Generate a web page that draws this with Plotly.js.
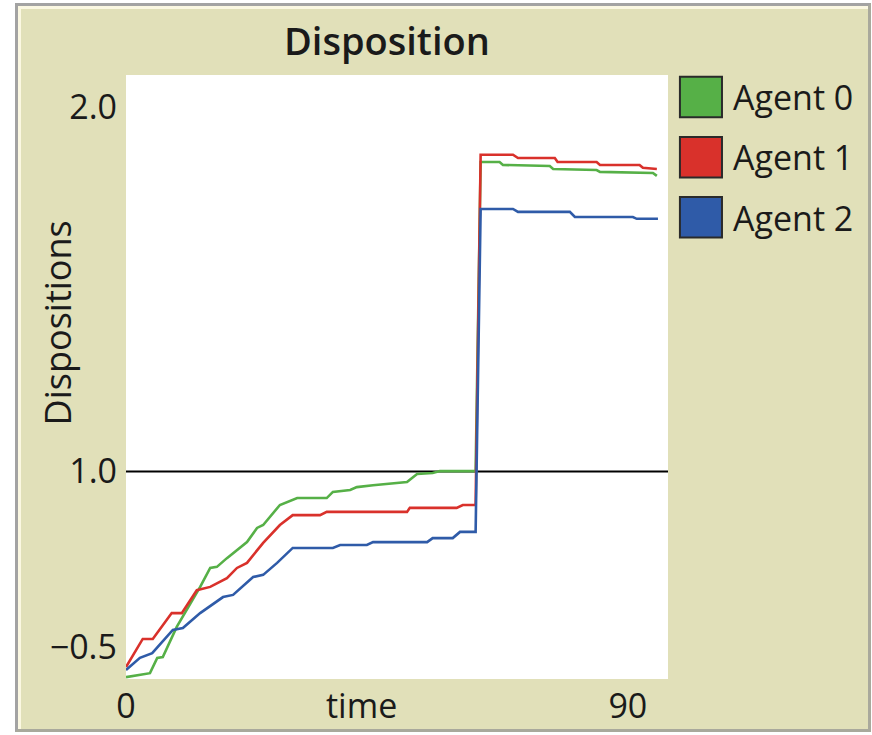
<!DOCTYPE html>
<html>
<head>
<meta charset="utf-8">
<script src="https://cdn.plot.ly/plotly-3.0.1.min.js"></script>
<style>
  html, body { margin: 0; padding: 0; background: #ffffff; width: 872px; height: 735px; overflow: hidden; }
  #frame { position: absolute; left: 15px; top: 3px; width: 850px; height: 723px;
           border-left: 3px solid #a3a3a3; border-top: 3px solid #a3a3a3;
           border-bottom: 3px solid #a9a99c; border-right: 3px solid #a9a99c; }
  #inner { position: absolute; left: 0; top: 0; width: 850px; height: 723px;
           border-left: 3px solid #fbf8e2; border-top: 3px solid #fbf8e2; box-sizing: border-box; }
  #plot { position: absolute; left: 21px; top: 9px; width: 847px; height: 720px; }
</style>
</head>
<body>
<div id="frame"><div id="inner"></div></div>
<div id="plot"></div>
<script>
// ---- data ----
const seriesNames = ["Agent 0", "Agent 1", "Agent 2"];

const agent0Time = [0, 4.3, 5.6, 6.6, 9.1, 13.3, 15.1, 16.3, 18.1, 21.7, 23.5, 24.6, 27.6, 30.7, 36.0, 37.1, 40.2, 41.4, 44.3, 50.4, 52.2, 55.0, 56.3, 62.7, 63.6, 67.0, 67.6, 76.0, 76.6, 84.4, 85.0, 94.5, 95.2];
const agent0Value = [0.435, 0.446, 0.488, 0.490, 0.573, 0.683, 0.735, 0.738, 0.762, 0.806, 0.845, 0.853, 0.908, 0.927, 0.927, 0.944, 0.949, 0.957, 0.962, 0.971, 0.993, 0.996, 1.001, 1.001, 1.850, 1.850, 1.842, 1.839, 1.831, 1.828, 1.823, 1.820, 1.812];

const agent1Time = [0, 3.0, 4.8, 8.2, 10.0, 12.7, 15.1, 18.1, 19.9, 21.7, 24.6, 27.6, 29.9, 34.8, 36.0, 50.4, 50.9, 59.3, 60.4, 62.7, 63.6, 69.4, 70.3, 76.9, 77.4, 84.4, 85.0, 92.1, 92.7, 95.2];
const agent1Value = [0.463, 0.540, 0.540, 0.611, 0.611, 0.674, 0.683, 0.707, 0.735, 0.749, 0.804, 0.853, 0.880, 0.880, 0.889, 0.889, 0.900, 0.900, 0.908, 0.908, 1.870, 1.870, 1.861, 1.861, 1.850, 1.850, 1.842, 1.842, 1.834, 1.831];

const agent2Time = [0, 2.5, 4.7, 8.4, 10.2, 13.3, 17.4, 19.2, 22.8, 24.6, 27.1, 29.4, 29.9, 37.1, 38.4, 43.2, 44.3, 54.0, 55.0, 58.6, 59.9, 62.7, 63.6, 69.4, 70.3, 79.6, 80.5, 90.9, 91.6, 95.4];
const agent2Value = [0.455, 0.488, 0.501, 0.565, 0.570, 0.611, 0.655, 0.661, 0.710, 0.716, 0.749, 0.784, 0.790, 0.790, 0.798, 0.798, 0.806, 0.806, 0.817, 0.817, 0.834, 0.834, 1.721, 1.721, 1.713, 1.713, 1.699, 1.699, 1.694, 1.694];

const xTickVals = [0, 90];
const xTickText = ["0", "90"];
const yTickVals = [0.518, 1.0, 2.0];
const yTickText = ["\u22120.5", "1.0", "2.0"];
const referenceLevel = 1.0;

// ---- styling ----
const colors = ["#56b047", "#d9312b", "#2f5ba8"];
const FONT = "Open Sans, Noto Sans, sans-serif";
const TXT = "#1a1a1a";
const BG = "#e1e0b9";

const times = [agent0Time, agent1Time, agent2Time];
const values = [agent0Value, agent1Value, agent2Value];

const traces = seriesNames.map((name, i) => ({
  type: "scatter", mode: "lines", name: name,
  x: times[i], y: values[i],
  line: { color: colors[i], width: 2.6 },
  showlegend: false, hoverinfo: "skip"
}));

// legend drawn as swatches + labels at the right of the plot
const shapes = [{
  type: "line", xref: "paper", yref: "y", x0: 0, x1: 1, y0: referenceLevel, y1: referenceLevel,
  line: { color: "#000000", width: 2 }, layer: "below"
}];
const annotations = [
  { text: "Dispositions", xref: "paper", yref: "paper", x: -0.127, y: 0.589, textangle: -90,
    showarrow: false, font: { family: FONT, size: 36, color: TXT }, xanchor: "center", yanchor: "middle" },
  { text: "time", xref: "paper", yref: "paper", x: 0.435, y: -0.043,
    showarrow: false, font: { family: FONT, size: 34, color: TXT }, xanchor: "center", yanchor: "middle" }
];
seriesNames.forEach((name, i) => {
  const top = 0.997 - i * 0.0995;
  shapes.push({ type: "rect", xref: "paper", yref: "paper",
    x0: 1.022, x1: 1.0996, y0: top - 0.067, y1: top,
    fillcolor: colors[i], line: { color: "#2a2a2a", width: 2 } });
  annotations.push({ text: name, xref: "paper", yref: "paper", x: 1.116, y: top - 0.034,
    xanchor: "left", yanchor: "middle", showarrow: false,
    font: { family: FONT, size: 34, color: TXT } });
});

const layout = {
  width: 847, height: 720,
  margin: { l: 105, r: 200, t: 66, b: 50, pad: 0 },
  paper_bgcolor: BG, plot_bgcolor: "#ffffff",
  title: { text: "Disposition", font: { family: FONT, size: 38, color: TXT, weight: 600 },
           xref: "container", yref: "container", x: 0.432, y: 0.954, xanchor: "center", yanchor: "middle" },
  xaxis: { range: [0, 97.2], tickvals: xTickVals, ticktext: xTickText, showgrid: false, zeroline: false,
           showline: false, ticks: "", ticklabelstandoff: 4,
           tickfont: { family: FONT, size: 34, color: TXT }, fixedrange: true },
  yaxis: { range: [0.43, 2.089], tickvals: yTickVals, ticktext: yTickText, showgrid: false, zeroline: false,
           showline: false, ticks: "", ticklabelstandoff: 8,
           tickfont: { family: FONT, size: 34, color: TXT }, fixedrange: true },
  shapes: shapes, annotations: annotations, showlegend: false
};

Plotly.newPlot("plot", traces, layout, { staticPlot: true, displayModeBar: false });
</script>
</body>
</html>
